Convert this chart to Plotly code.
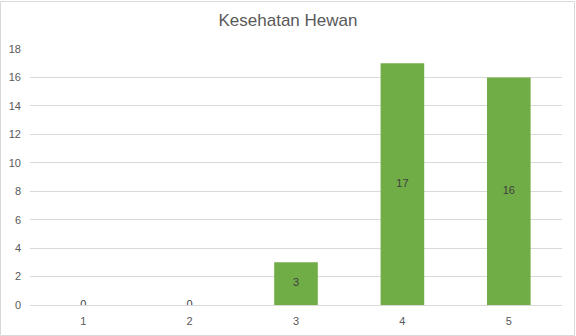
import plotly.graph_objects as go

categories = ["1", "2", "3", "4", "5"]
values = [0, 0, 3, 17, 16]
title = "Kesehatan Hewan"

W, H = 576, 336
ml, mr, mt, mb = 30, 14, 49, 31
pw, ph = W - ml - mr, H - mt - mb

fig = go.Figure()
fig.add_trace(go.Bar(x=categories, y=values, marker_color="#70AD47",
                     marker_line_width=0, hoverinfo="skip"))
fig.add_trace(go.Scatter(x=categories, y=[v / 2 for v in values], mode="text",
                         text=[str(v) for v in values],
                         textfont=dict(size=11, color="#404040", family="Liberation Sans"),
                         hoverinfo="skip"))

fig.update_layout(
    width=W, height=H,
    margin=dict(l=ml, r=mr, t=mt, b=mb),
    paper_bgcolor="white", plot_bgcolor="white",
    showlegend=False,
    bargap=0.59,
    title=dict(text=title, x=0.5, xanchor="center", y=1 - 20 / H, yanchor="middle",
               font=dict(size=17, color="#595959", family="Liberation Sans")),
    font=dict(family="Liberation Sans", size=11, color="#595959"),
    xaxis=dict(showgrid=False, showline=False, zeroline=False, ticks="",
               ticklabelstandoff=8, automargin=False,
               tickfont=dict(size=11, color="#595959")),
    yaxis=dict(range=[0, 18], dtick=2, showgrid=True, gridcolor="#d9d9d9", gridwidth=1,
               zeroline=True, zerolinecolor="#d9d9d9", zerolinewidth=1,
               showline=False, ticks="", ticklabelstandoff=8, automargin=False,
               tickfont=dict(size=11, color="#595959")),
)

fig.add_shape(type="rect", xref="paper", yref="paper",
              x0=(-ml + 0.5) / pw, x1=(pw + mr - 1.5) / pw,
              y0=(-mb + 0.5) / ph, y1=(ph + mt - 1.5) / ph,
              line=dict(color="#d9d9d9", width=1), fillcolor="rgba(0,0,0,0)", layer="above")

fig.write_html("out.html")
